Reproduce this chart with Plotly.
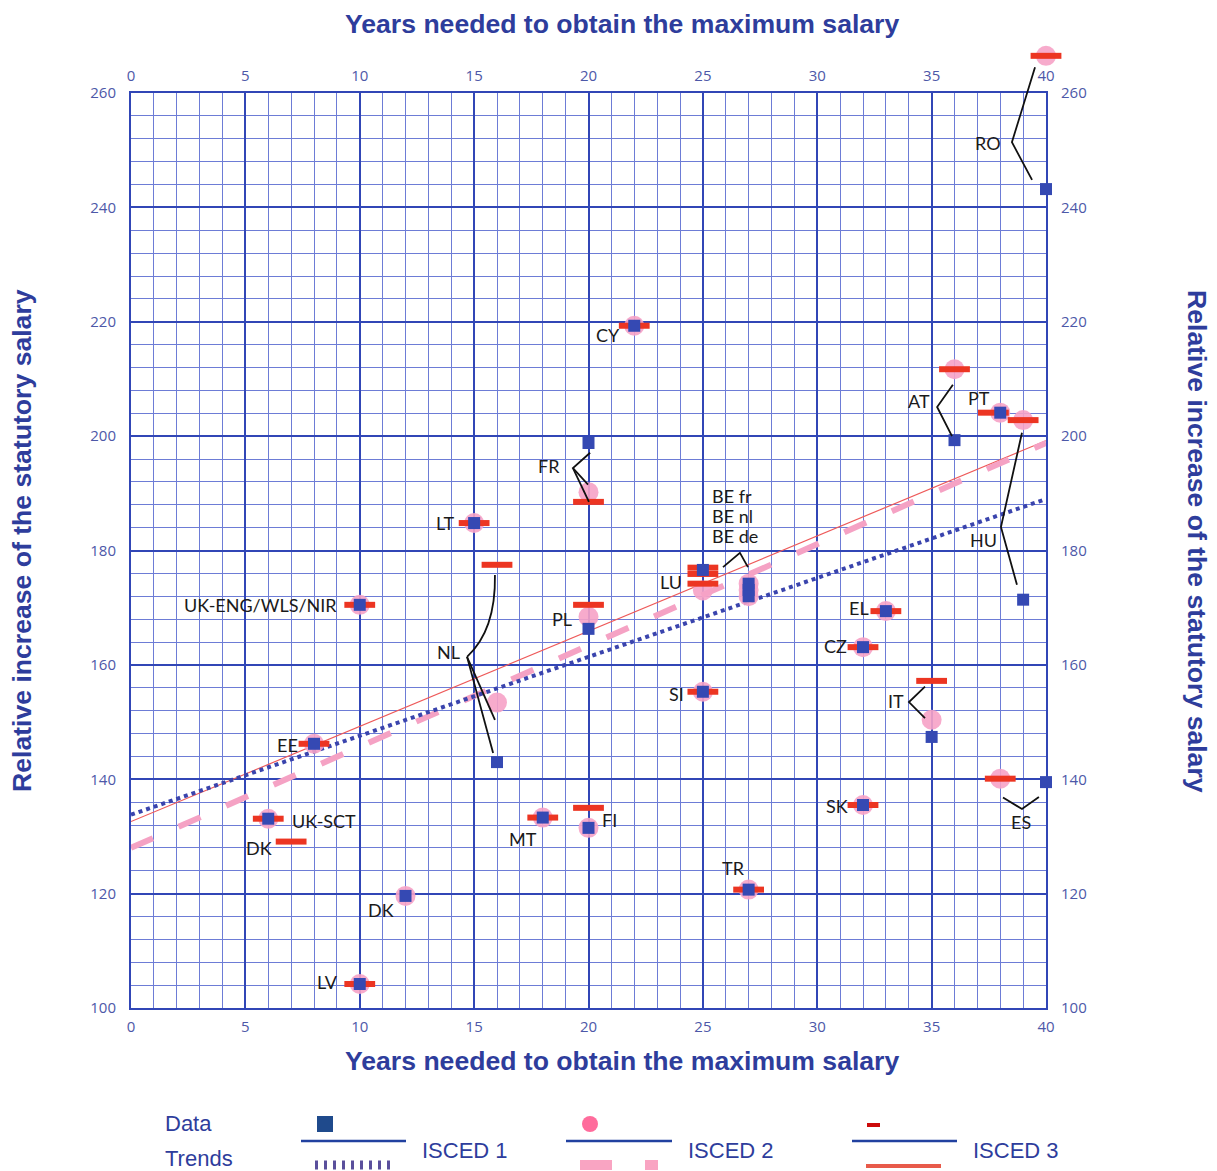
import plotly.graph_objects as go

# ---------------- data ----------------
isced1_countries = ["RO", "CY", "AT", "PT", "HU", "FR", "LT", "UK-ENG/WLS/NIR", "NL", "EE",
                    "UK-SCT", "DK", "LV", "MT", "FI", "PL", "LU", "BE fr", "BE nl", "BE de",
                    "SI", "TR", "EL", "CZ", "SK", "IT", "ES"]
isced1_years = [40, 22, 36, 38, 39, 20, 15, 10, 16, 8, 6, 12, 10, 18, 20, 20, 25, 27, 27, 27,
                25, 27, 33, 32, 32, 35, 40]
isced1_salary = [243.2, 219.3, 199.3, 204.1, 171.4, 198.8, 184.8, 170.5, 143.0, 146.2, 133.1,
                 119.6, 104.2, 133.3, 131.5, 166.3, 176.6, 174.2, 173.1, 172.0, 155.3, 120.7,
                 169.4, 163.1, 135.5, 147.4, 139.5]

isced2_countries = ["RO", "CY", "AT", "PT", "HU", "FR", "LT", "UK-ENG/WLS/NIR", "NL", "EE",
                    "UK-SCT", "DK", "LV", "MT", "FI", "PL", "LU", "BE fr", "BE nl", "BE de",
                    "SI", "TR", "EL", "CZ", "SK", "IT", "ES"]
isced2_years = [40, 22, 36, 38, 39, 20, 15, 10, 16, 8, 6, 12, 10, 18, 20, 20, 25, 27, 27, 27,
                25, 27, 33, 32, 32, 35, 38]
isced2_salary = [266.5, 219.3, 211.7, 204.1, 202.8, 190.2, 184.8, 170.5, 153.4, 146.2, 133.1,
                 119.6, 104.2, 133.3, 131.5, 168.4, 173.0, 174.2, 173.1, 172.0, 155.3, 120.7,
                 169.4, 163.1, 135.5, 150.4, 140.1]

isced3_countries = ["RO", "CY", "AT", "PT", "HU", "FR", "LT", "UK-ENG/WLS/NIR", "NL", "EE",
                    "UK-SCT", "DK", "LV", "MT", "FI", "PL", "LU", "LU", "LU",
                    "SI", "TR", "EL", "CZ", "SK", "IT", "ES"]
isced3_years = [40, 22, 36, 37.7, 39, 20, 15, 10, 16, 8, 6, 7, 10, 18, 20, 20, 25, 25, 25,
                25, 27, 33, 32, 32, 35, 38]
isced3_salary = [266.5, 219.3, 211.7, 204.1, 202.8, 188.5, 184.8, 170.5, 177.5, 146.2, 133.1,
                 129.1, 104.2, 133.3, 135.0, 170.5, 177.0, 175.9, 174.2, 155.3, 120.7,
                 169.4, 163.1, 135.5, 157.2, 140.1]

trend_years = [0, 40]
trend_isced1 = [133.8, 189.0]
trend_isced2 = [128.0, 198.8]
trend_isced3 = [132.6, 199.2]

x_ticks = [0, 5, 10, 15, 20, 25, 30, 35, 40]
y_ticks = [100, 120, 140, 160, 180, 200, 220, 240, 260]

# ---------------- styles / geometry ----------------
W, H = 1217, 1171
ML, MR, MT, MB = 131, 171, 40, 163          # paper area (markers may rise above plot)
PLOT_TOP = 93                               # pixel top of the gridded plot area
PW, PH = W - ML - MR, H - MT - MB
Y_DOMAIN_TOP = (H - MB - PLOT_TOP) / PH
Y_MIN, Y_MAX = 100, 260
Y_EXT = Y_MIN + (Y_MAX - Y_MIN) / Y_DOMAIN_TOP   # same scale over the full paper

TITLE_BLUE = "#2e3d9c"
TICK_BLUE = "#4d58a8"
MAJOR = "#3146b6"
MINOR = "#6d7cd6"
BLUE_SQ = "#3549b3"
PINK = "rgba(246,162,198,0.9)"
RED = "#ec3522"


def px(x):
    return (x - ML) / PW


def py(y):
    return (H - MB - y) / PH


fig = go.Figure()

# trend lines (main subplot)
fig.add_trace(go.Scatter(x=trend_years, y=trend_isced3, mode="lines",
                         line=dict(color="#ee5a5a", width=1.2), hoverinfo="skip"))
fig.add_trace(go.Scatter(x=trend_years, y=trend_isced2, mode="lines",
                         line=dict(color="#f5a2c4", width=6, dash="24px,28px"), hoverinfo="skip"))
fig.add_trace(go.Scatter(x=trend_years, y=trend_isced1, mode="lines",
                         line=dict(color="#3a44ad", width=4, dash="4px,4px"), hoverinfo="skip"))

# dummy trace for top/right tick axes
fig.add_trace(go.Scatter(x=[None], y=[None], xaxis="x2", yaxis="y2", hoverinfo="skip"))

# data markers on an overlay subplot with the same scale but taller extent
fig.add_trace(go.Scatter(x=isced2_years, y=isced2_salary, mode="markers", text=isced2_countries,
                         marker=dict(symbol="circle", size=20, color=PINK, line=dict(width=0)),
                         cliponaxis=False, xaxis="x3", yaxis="y3"))
fig.add_trace(go.Scatter(x=isced3_years, y=isced3_salary, mode="markers", text=isced3_countries,
                         marker=dict(symbol="line-ew", size=22, color=RED,
                                     line=dict(color=RED, width=6)),
                         cliponaxis=False, xaxis="x3", yaxis="y3"))
fig.add_trace(go.Scatter(x=isced1_years, y=isced1_salary, mode="markers", text=isced1_countries,
                         marker=dict(symbol="square", size=12, color=BLUE_SQ, line=dict(width=0)),
                         cliponaxis=False, xaxis="x3", yaxis="y3"))

tickfont = dict(family="Open Sans, sans-serif", size=15, color=TICK_BLUE)
common_x = dict(range=[0, 40], tickvals=x_ticks, tickfont=tickfont, zeroline=False,
                ticks="outside", ticklen=4, tickcolor="rgba(0,0,0,0)")
common_y = dict(range=[Y_MIN, Y_MAX], tickvals=y_ticks, tickfont=tickfont, zeroline=False,
                ticks="outside", ticklen=10, tickcolor="rgba(0,0,0,0)")

fig.update_layout(
    width=W, height=H,
    margin=dict(l=ML, r=MR, t=MT, b=MB),
    paper_bgcolor="white", plot_bgcolor="rgba(0,0,0,0)",
    showlegend=False,
    xaxis=dict(**common_x, showgrid=True, gridcolor=MAJOR, gridwidth=2,
               showline=True, linecolor=MAJOR, linewidth=2, domain=[0, 1],
               minor=dict(dtick=1, tick0=0, showgrid=True, gridcolor=MINOR, gridwidth=1)),
    yaxis=dict(**common_y, showgrid=True, gridcolor=MAJOR, gridwidth=2,
               showline=True, linecolor=MAJOR, linewidth=2, domain=[0, Y_DOMAIN_TOP],
               minor=dict(dtick=4, tick0=100, showgrid=True, gridcolor=MINOR, gridwidth=1)),
    xaxis2=dict(**common_x, overlaying="x", side="top", showgrid=False,
                showline=True, linecolor=MAJOR, linewidth=2, anchor="y"),
    yaxis2=dict(**common_y, overlaying="y", side="right", showgrid=False,
                showline=True, linecolor=MAJOR, linewidth=2, anchor="x"),
    xaxis3=dict(range=[0, 40], domain=[0, 1], visible=False, anchor="y3"),
    yaxis3=dict(range=[Y_MIN, Y_EXT], domain=[0, 1], visible=False, anchor="x3"),
)

# axis titles
title_font = dict(family="Liberation Sans, Arial, sans-serif", size=26.6, color=TITLE_BLUE)
xt = "<b>Years needed to obtain the maximum salary</b>"
yt = "<b>Relative increase of the statutory salary</b>"
fig.add_annotation(text=xt, x=px(622), y=py(24), xref="paper", yref="paper",
                   showarrow=False, font=title_font, xanchor="center", yanchor="middle")
fig.add_annotation(text=xt, x=px(622), y=py(1061), xref="paper", yref="paper",
                   showarrow=False, font=title_font, xanchor="center", yanchor="middle")
fig.add_annotation(text=yt, x=px(22), y=py(541), xref="paper", yref="paper", textangle=-90,
                   showarrow=False, font=title_font, xanchor="center", yanchor="middle")
fig.add_annotation(text=yt, x=px(1197), y=py(541), xref="paper", yref="paper", textangle=90,
                   showarrow=False, font=title_font, xanchor="center", yanchor="middle")

# country labels (data coords)
labels = [
    ("RO", 37.46, 251.3, "center"), ("CY", 20.85, 217.7, "center"),
    ("AT", 34.45, 206.2, "center"), ("PT", 37.07, 206.7, "center"),
    ("HU", 37.25, 181.9, "center"), ("FR", 18.27, 194.8, "center"),
    ("LT", 13.75, 184.8, "center"), ("BE fr", 25.32, 189.5, "left"),
    ("BE nl", 25.32, 186.0, "left"), ("BE de", 25.32, 182.6, "left"),
    ("LU", 23.61, 174.5, "center"), ("UK-ENG/WLS/NIR", 9.1, 170.5, "right"),
    ("PL", 18.84, 168.0, "center"), ("EL", 31.83, 170.0, "center"),
    ("CZ", 30.78, 163.3, "center"), ("NL", 13.90, 162.3, "center"),
    ("SI", 23.83, 154.9, "center"), ("IT", 33.44, 153.7, "center"),
    ("EE", 6.82, 146.0, "center"), ("SK", 30.86, 135.3, "center"),
    ("ES", 38.91, 132.6, "center"), ("UK-SCT", 6.95, 132.7, "left"),
    ("DK", 5.60, 128.0, "center"), ("MT", 17.14, 129.6, "center"),
    ("FI", 20.90, 132.9, "center"), ("TR", 26.36, 124.5, "center"),
    ("DK", 10.93, 117.2, "center"), ("LV", 8.61, 104.6, "center"),
]
label_font = dict(family="Lato, sans-serif", size=18, color="#1a1a1a")
for t, lx, ly, anc in labels:
    fig.add_annotation(text=t, x=lx, y=ly, xref="x", yref="y", showarrow=False,
                       font=label_font, xanchor=anc, yanchor="middle")

# leader lines (data coords, on the taller overlay subplot)
leaders = [
    "M 39.52,264.5 L 38.51,251.4 L 39.39,244.8",          # RO
    "M 35.93,209.0 L 35.24,205.1 L 35.89,200.0",          # AT
    "M 38.95,200.6 L 38.03,184.1 L 38.73,174.0",          # HU
    "M 20.07,197.1 L 19.32,194.4 L 19.98,191.5",          # FR
    "M 19.32,194.4 L 20.02,188.5",                        # FR
    "M 25.88,177.1 L 26.62,179.6 L 26.97,177.1",          # BE
    "M 15.91,175.7 Q 15.95,166.0 14.69,161.4",            # NL
    "M 14.69,161.4 L 15.91,150.4",                        # NL
    "M 14.69,161.4 L 15.83,144.6",                        # NL
    "M 34.71,156.2 L 34.01,153.5 L 34.71,150.7",          # IT
    "M 38.12,136.8 L 38.95,134.8 L 39.69,136.9",          # ES
]
for p in leaders:
    fig.add_shape(type="path", path=p, xref="x3", yref="y3",
                  line=dict(color="#111111", width=1.8), layer="above")

# ---------------- custom legend ----------------
leg_font = dict(family="Liberation Sans, Arial, sans-serif", size=22, color=TITLE_BLUE)
fig.add_annotation(text="Data", x=px(163), y=py(1123), xref="paper", yref="paper",
                   showarrow=False, font=leg_font, xanchor="left", yanchor="middle")
fig.add_annotation(text="Trends", x=px(163), y=py(1158), xref="paper", yref="paper",
                   showarrow=False, font=leg_font, xanchor="left", yanchor="middle")
for lbl, x0 in [("ISCED 1", 420), ("ISCED 2", 686), ("ISCED 3", 971)]:
    fig.add_annotation(text=lbl, x=px(x0), y=py(1150), xref="paper", yref="paper",
                       showarrow=False, font=leg_font, xanchor="left", yanchor="middle")
for x0, x1 in [(301, 406), (566, 672), (852, 957)]:
    fig.add_shape(type="line", xref="paper", yref="paper", x0=px(x0), x1=px(x1),
                  y0=py(1141), y1=py(1141), line=dict(color="#2141a0", width=2.5))
# data symbols
fig.add_shape(type="rect", xref="paper", yref="paper", x0=px(317), x1=px(333),
              y0=py(1132), y1=py(1116), fillcolor="#1f4a8c", line=dict(width=0))
fig.add_shape(type="circle", xref="paper", yref="paper", x0=px(582), x1=px(598),
              y0=py(1132), y1=py(1116), fillcolor="#ff6c9c", line=dict(width=0))
fig.add_shape(type="rect", xref="paper", yref="paper", x0=px(867), x1=px(880),
              y0=py(1127), y1=py(1123), fillcolor="#cc0a0a", line=dict(width=0))
# trend symbols
fig.add_shape(type="line", xref="paper", yref="paper", x0=px(315), x1=px(392),
              y0=py(1165), y1=py(1165), line=dict(color="#5a4f9c", width=9, dash="3px,6px"))
fig.add_shape(type="rect", xref="paper", yref="paper", x0=px(580), x1=px(612),
              y0=py(1170), y1=py(1160), fillcolor="#f9a4c2", line=dict(width=0))
fig.add_shape(type="rect", xref="paper", yref="paper", x0=px(645), x1=px(658),
              y0=py(1170), y1=py(1160), fillcolor="#f9a4c2", line=dict(width=0))
fig.add_shape(type="line", xref="paper", yref="paper", x0=px(866), x1=px(941),
              y0=py(1166), y1=py(1166), line=dict(color="#e85a4a", width=4))

fig.write_html("out.html", config={"displayModeBar": False},
               post_script="document.body.style.margin='0';")
